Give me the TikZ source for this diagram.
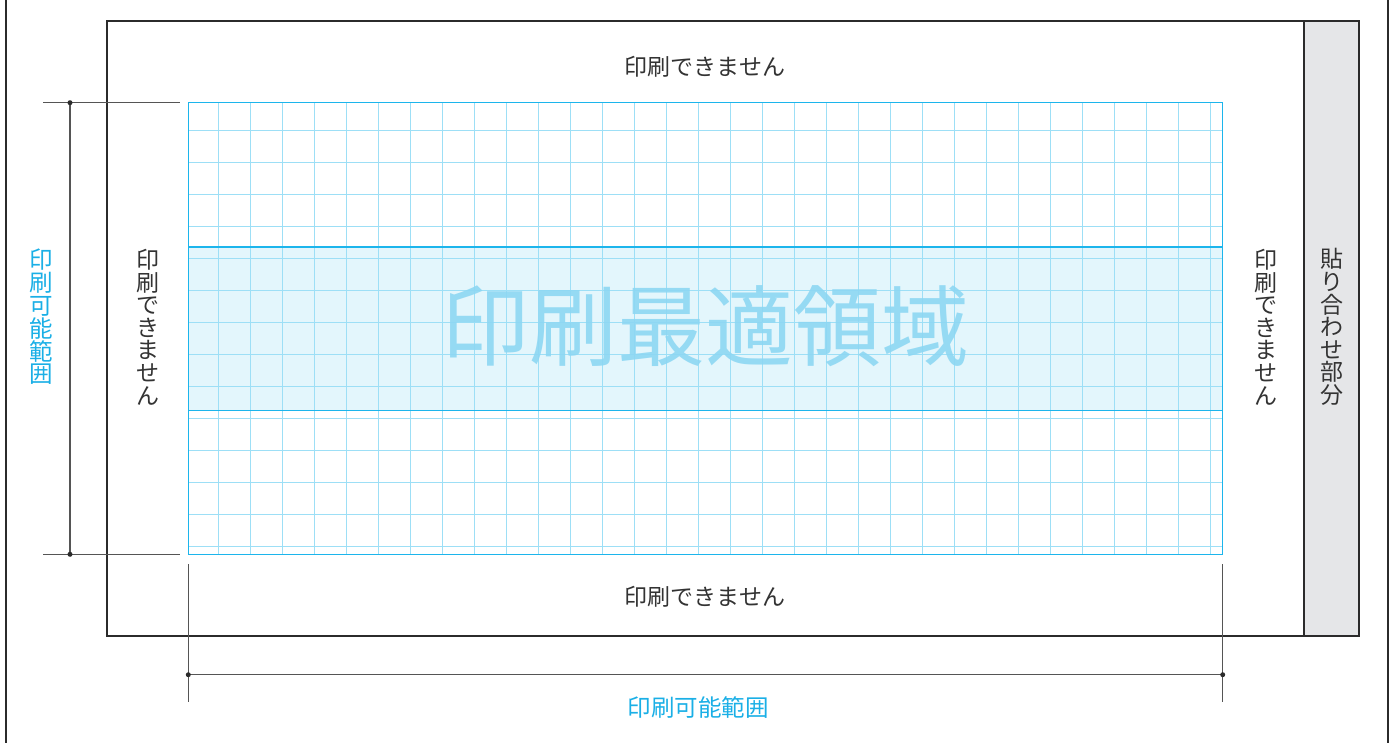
\documentclass[tikz,border=0pt]{standalone}
\usepackage{fontspec}
\setmainfont{Noto Sans CJK JP}
\definecolor{frameblk}{HTML}{2B2B2B}
\definecolor{dimgray}{HTML}{555555}
\definecolor{txtblk}{HTML}{333333}
\definecolor{cyanedge}{HTML}{1CB5EC}
\definecolor{cyangrid}{HTML}{9DDFF6}
\definecolor{bandfill}{HTML}{E3F6FC}
\definecolor{bigtxt}{HTML}{8DD7F3}
\definecolor{labelcyan}{HTML}{1AAFE6}
\definecolor{stripfill}{HTML}{E5E6E8}
\tikzset{
  frameline/.style={draw=frameblk,line width=2pt},
  dimline/.style={draw=dimgray,line width=1.2pt},
  gridline/.style={draw=cyangrid,line width=1.2pt},
  edgeline/.style={draw=cyanedge,line width=1.5pt},
  dimdot/.style={circle,fill=frameblk,inner sep=0pt,minimum size=5pt},
  graylabel/.style={text=txtblk,font=\fontsize{23}{22.6}\selectfont,inner sep=0pt},
  cyanlabel/.style={text=labelcyan,font=\fontsize{23.5}{22.8}\selectfont,inner sep=0pt},
  vlabel/.style={align=center}
}
\begin{document}
\begin{tikzpicture}[x=1pt,y=-1pt]
\useasboundingbox (0,0) rectangle (1391,742);
% outer frame sides
\draw[frameline] (6,-5) -- (6,747);
\draw[frameline] (1388,-5) -- (1388,747);
% paste strip
\path[fill=stripfill] (1304.3,21) rectangle (1359.3,636.3);
% main sheet
\draw[frameline] (106.7,21) rectangle (1359.3,636.3);
\draw[frameline] (1304.3,21) -- (1304.3,636.3);
% band
\path[fill=bandfill] (188.3,247) rectangle (1222.7,410.3);
% grid
\foreach \i in {0,...,31} {\draw[gridline] ({218.3+32*\i},102.7) -- ({218.3+32*\i},554.3);}
\foreach \j in {0,...,13} {\draw[gridline] (188.3,{130.3+32*\j}) -- (1222.7,{130.3+32*\j});}
% big text
\node[text=bigtxt,font=\fontsize{88}{90}\selectfont,inner sep=0pt,opacity=0.9] (big) at (705,326) {印刷最適領域};
% band edges
\draw[edgeline] (188.3,247) -- (1222.7,247);
\draw[edgeline] (188.3,410.3) -- (1222.7,410.3);
% grid border
\draw[edgeline] (188.3,102.7) rectangle (1222.7,554.3);
% left dimension
\coordinate (lt) at (70,102.7);
\coordinate (lb) at (70,554.3);
\draw[dimline] (43,102.7) -- (180,102.7);
\draw[dimline] (43,554.3) -- (180,554.3);
\draw[dimline] (lt) -- (lb);
\node[dimdot] (ltd) at (lt) {};
\node[dimdot] (lbd) at (lb) {};
% bottom dimension
\coordinate (bl) at (188.3,674.7);
\coordinate (br) at (1222.7,674.7);
\draw[dimline] (188.3,564.3) -- (188.3,701.7);
\draw[dimline] (1222.7,564.3) -- (1222.7,701.7);
\draw[dimline] (bl) -- (br);
\node[dimdot] (bld) at (bl) {};
\node[dimdot] (brd) at (br) {};
% labels
\node[graylabel] (top) at (705,67) {印刷できません};
\node[graylabel] (bottom) at (705,597) {印刷できません};
\node[graylabel,vlabel] (left) at (148,327) {印\\刷\\で\\き\\ま\\せ\\ん};
\node[graylabel,vlabel] (right) at (1266,327) {印\\刷\\で\\き\\ま\\せ\\ん};
\node[graylabel,vlabel] (strip) at (1332,327) {貼\\り\\合\\わ\\せ\\部\\分};
\node[cyanlabel,vlabel] (lrange) at (41,317) {印\\刷\\可\\能\\範\\囲};
\node[cyanlabel] (brange) at (698,708) {印刷可能範囲};
\end{tikzpicture}
\end{document}
